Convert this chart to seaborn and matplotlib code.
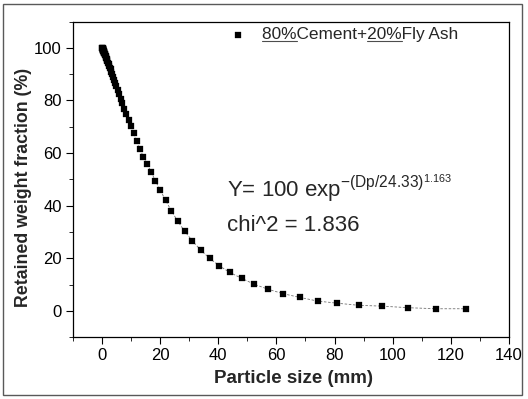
import matplotlib
matplotlib.use("Agg")
import matplotlib.pyplot as plt
import matplotlib.patches as mpatches
from matplotlib.lines import Line2D
import seaborn as sns
import pandas as pd

# particle size (laser bins) and retained weight fraction
particle_size = [0.10, 0.15, 0.20, 0.25, 0.28, 0.31, 0.33, 0.36, 0.40, 0.43, 0.47,
                 0.52, 0.56, 0.62, 0.67, 0.73, 0.80, 0.87, 0.95, 1.04, 1.13,
                 1.24, 1.35, 1.47, 1.61, 1.75, 1.91, 2.08, 2.27, 2.48, 2.71,
                 2.95, 3.22, 3.52, 3.84, 4.19, 4.57, 4.98, 5.44, 5.93, 6.47,
                 7.06, 7.71, 8.41, 9.17, 10.0, 10.9, 11.9, 13.0, 14.2, 15.5,
                 16.9, 18.4, 20.1, 21.9, 23.9, 26.1, 28.5, 31.1, 33.9, 37.0,
                 40.4, 44.0, 48.0, 52.4, 57.2, 62.4, 68.1, 74.3, 81.0, 88.4,
                 96.4, 105.2, 114.8, 125.2]
retained = [100.0, 99.9, 99.8, 99.7, 99.6, 99.5, 99.4, 99.3, 99.2, 99.1, 99.0,
            98.9, 98.8, 98.6, 98.5, 98.3, 98.1, 97.9, 97.7, 97.5, 97.2,
            96.9, 96.6, 96.3, 95.8, 95.4, 94.9, 94.4, 93.9, 93.2, 92.5,
            91.8, 90.9, 90.0, 89.0, 87.9, 86.7, 85.4, 83.9, 82.4, 80.7,
            78.9, 76.9, 74.8, 72.5, 70.1, 67.5, 64.7, 61.7, 58.6, 56.0,
            52.9, 49.4, 45.8, 42.0, 38.0, 34.0, 30.2, 26.6, 23.2, 20.0,
            17.1, 14.6, 12.4, 10.1, 8.2, 6.5, 5.1, 3.7, 2.9, 2.1,
            1.8, 1.2, 0.8, 0.8]

legend_label = "80%Cement+20%Fly Ash"
underlined = ["80%", "80%Cement+20%"]  # prefixes whose last 3 chars are underlined

df = pd.DataFrame({"size": particle_size, "retained": retained})

sns.set_style("ticks")
plt.rcParams["font.family"] = ["Liberation Sans", "DejaVu Sans"]
plt.rcParams["mathtext.fontset"] = "custom"
plt.rcParams["mathtext.rm"] = "Liberation Sans"

W, H = 528, 399
fig = plt.figure(figsize=(W / 100, H / 100), dpi=100)
ax = fig.add_axes([0.138, 0.155, 0.826, 0.791])

sns.lineplot(data=df, x="size", y="retained", ax=ax, color="0.45",
             lw=0.6, ls=(0, (3, 2)), zorder=1)
sns.scatterplot(data=df, x="size", y="retained", ax=ax, marker="s", s=20,
                color="black", edgecolor="black", linewidth=0.2,
                label=legend_label, zorder=2)

ax.set_xlim(-10, 140)
ax.set_ylim(-10, 110)
ax.set_xticks(range(0, 141, 20))
ax.set_yticks(range(0, 101, 20))
ax.set_xticks(range(-10, 141, 10), minor=True)
ax.set_yticks(range(-10, 111, 10), minor=True)
ax.tick_params(which="major", direction="out", length=5, width=0.8,
               labelsize=12, colors="black", pad=3)
ax.tick_params(which="minor", direction="out", length=3, width=0.7)
for sp in ax.spines.values():
    sp.set_visible(True)
    sp.set_linewidth(0.9)
    sp.set_color("black")

ax.set_xlabel("Particle size (mm)", fontsize=13.5, fontweight="bold")
ax.set_ylabel("Retained weight fraction (%)", fontsize=12.8, fontweight="bold")
ax.xaxis.set_label_coords(0.505, -0.105)
ax.yaxis.set_label_coords(-0.093, 0.473)

leg = ax.legend(loc="center left", bbox_to_anchor=(0.339, 0.958), frameon=False,
                fontsize=12.4, borderpad=0, handlelength=1.0, handletextpad=0.9)

ax.text(43, 43.5, r"Y= 100 exp$^{\mathregular{-(Dp/24.33)}^{\mathregular{1.163}}}$",
        fontsize=16, ha="left", va="baseline")
ax.text(43, 30.5, "chi^2 = 1.836", fontsize=16, ha="left", va="baseline")

# underline "80%" and "20%" in the legend text
fig.canvas.draw()
renderer = fig.canvas.get_renderer()
txt = leg.get_texts()[0]
bb = txt.get_window_extent(renderer)
prop = txt.get_fontproperties()
y_ul = bb.y0 + 1
for pre in underlined:
    w_end = renderer.get_text_width_height_descent(pre, prop, ismath=False)[0]
    w_start = renderer.get_text_width_height_descent(pre[:-3], prop, ismath=False)[0] if len(pre) > 3 else 0
    fig.add_artist(Line2D([(bb.x0 + w_start) / W, (bb.x0 + w_end) / W],
                          [y_ul / H, y_ul / H], transform=fig.transFigure,
                          color="0.3", lw=0.8))

# scanned-figure outer frame
fig.patches.append(mpatches.Rectangle((3 / W, 4 / H), 519 / W, 391 / H,
                                      transform=fig.transFigure, fill=False,
                                      edgecolor="0.35", lw=1.0))

fig.savefig("out.png", dpi=100)
